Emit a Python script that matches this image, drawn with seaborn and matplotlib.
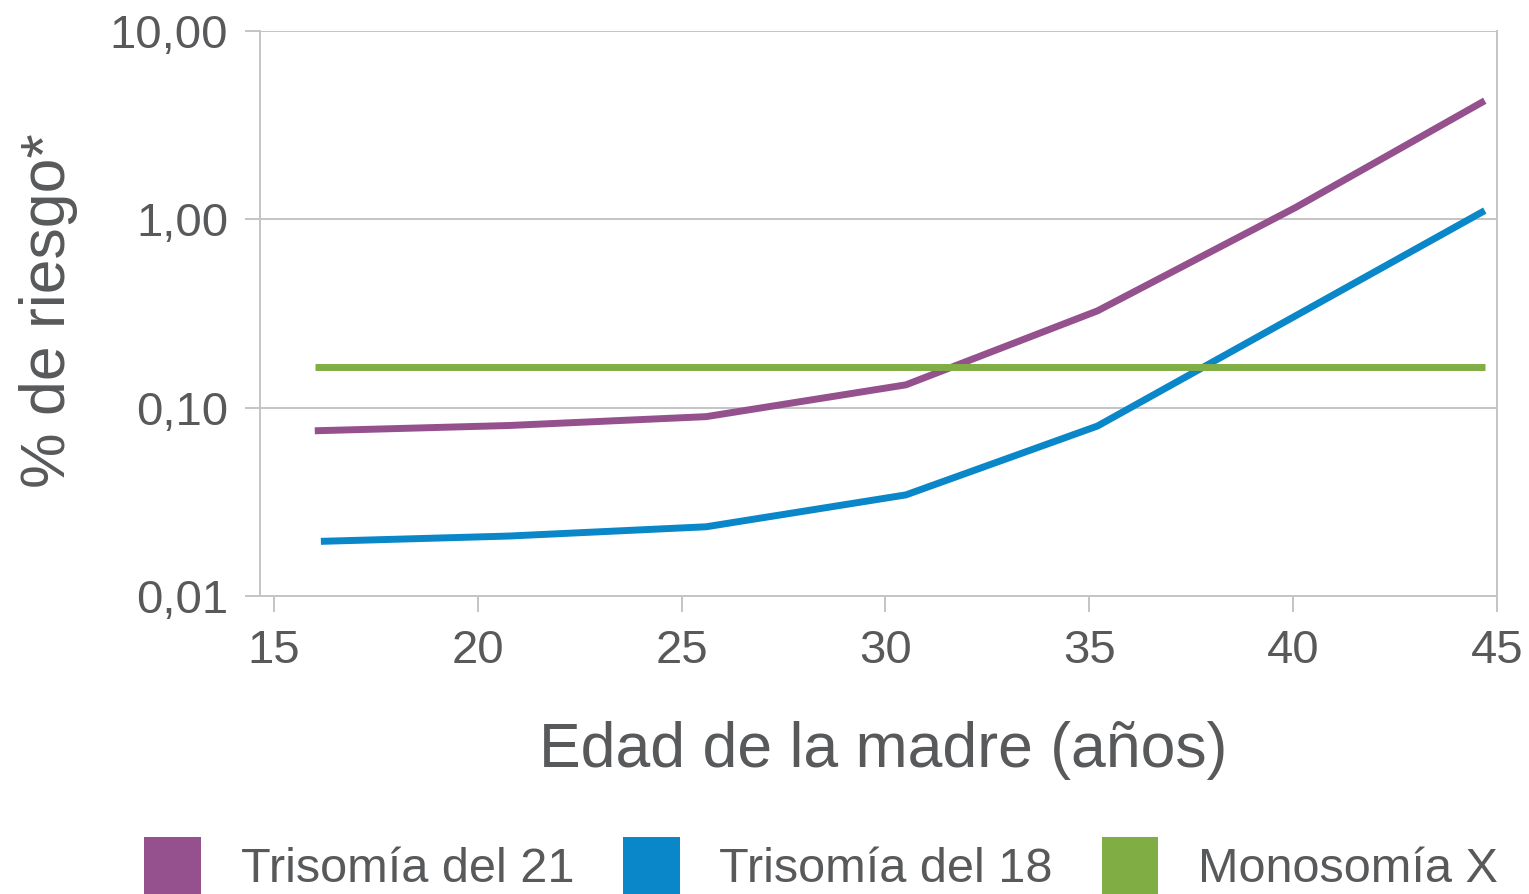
import matplotlib
matplotlib.use("Agg")
import matplotlib.pyplot as plt
import matplotlib.patches as mpatches
import pandas as pd
import seaborn as sns

# --- data (risk in %, log scale) ---
SERIES = ["Trisomía del 21", "Trisomía del 18", "Monosomía X"]
AGES_T21 = [16.0, 20.75, 25.6, 30.5, 35.2, 40.05, 44.7]
RISK_T21 = [0.0753, 0.0803, 0.0895, 0.132, 0.326, 1.15, 4.25]
AGES_T18 = [16.15, 20.75, 25.6, 30.5, 35.2, 40.05, 44.7]
RISK_T18 = [0.0195, 0.0208, 0.0233, 0.0344, 0.0798, 0.306, 1.11]
AGES_MX = [16.0, 44.7]
RISK_MX = [0.165, 0.165]

X_TICKS = [15, 20, 25, 30, 35, 40, 45]
Y_TICKS = [0.01, 0.1, 1, 10]
Y_TICK_LABELS = ["0,01", "0,10", "1,00", "10,00"]

PALETTE = {
    "Trisomía del 21": "#95518E",
    "Trisomía del 18": "#0A87C8",
    "Monosomía X":     "#80AE45",
}
TEXT = "#58595B"
GRID = "#C4C4C6"

sns.set_theme(style="white")
plt.rcParams.update({
    "font.family": ["Liberation Sans", "DejaVu Sans"],
    "lines.solid_capstyle": "butt",
})

frames = []
for name, ages, risk in zip(SERIES, [AGES_T21, AGES_T18, AGES_MX], [RISK_T21, RISK_T18, RISK_MX]):
    frames.append(pd.DataFrame({"edad": ages, "riesgo": risk, "serie": name}))
df = pd.concat(frames, ignore_index=True)

W, H = 1529, 894
fig = plt.figure(figsize=(W / 100, H / 100), dpi=100)
ax = fig.add_axes([260 / W, 1 - 596 / H, (1497 - 260) / W, (596 - 30.7) / H])

sns.lineplot(data=df, x="edad", y="riesgo", hue="serie", palette=PALETTE,
             hue_order=SERIES, linewidth=5, sort=False, legend=False, ax=ax)

ax.set_yscale("log")
ax.set_xlim(15 - 14 / 40.77, 45)
ax.set_ylim(0.01, 10)
ax.set_xticks(X_TICKS)
ax.set_xticklabels([str(t) for t in X_TICKS])
ax.set_yticks(Y_TICKS)
ax.set_yticklabels(Y_TICK_LABELS)
ax.yaxis.set_minor_locator(matplotlib.ticker.NullLocator())

ax.yaxis.grid(True, color=GRID, linewidth=1.4)
ax.set_axisbelow(True)
for side in ["left", "right", "bottom", "top"]:
    ax.spines[side].set_color(GRID)
    ax.spines[side].set_linewidth(1.4)
ax.spines["top"].set_visible(False)

ax.tick_params(axis="both", which="major", direction="out", color=GRID, width=1.4,
               labelsize=34, labelcolor=TEXT)
ax.tick_params(axis="y", length=11, pad=12, left=True)
ax.tick_params(axis="x", length=11.5, pad=12, bottom=True)

ax.set_xlabel("Edad de la madre (años)", fontsize=45, color=TEXT)
ax.xaxis.set_label_coords(0.504, -0.221)
ax.set_ylabel("% de riesgo*", fontsize=45, color=TEXT)
ax.yaxis.set_label_coords(-0.147, 0.504)

handles = [mpatches.Patch(facecolor=PALETTE[s], edgecolor="none", label=s) for s in SERIES]
leg = fig.legend(handles=handles, loc="center", ncol=3, frameon=False, fontsize=35,
                 bbox_to_anchor=(821 / W, 1 - 866 / H), borderpad=0,
                 handlelength=1.17, handleheight=1.45, handletextpad=0.82,
                 columnspacing=1.0)
for t in leg.get_texts():
    t.set_color(TEXT)

fig.savefig("out.png", dpi=100)
